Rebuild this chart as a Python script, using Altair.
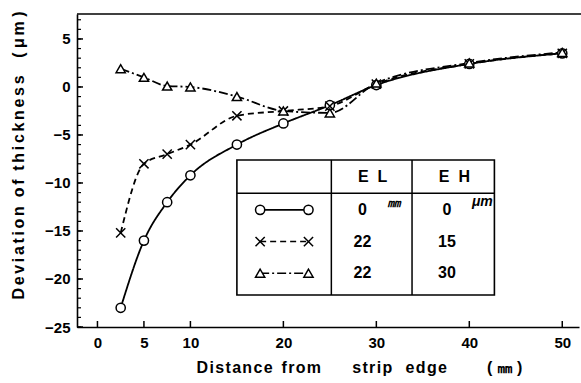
import altair as alt
import pandas as pd

# ---- data ----
dist = [2.5, 5, 7.5, 10, 15, 20, 25, 30, 40, 50]
el0_eh0 = [-23.0, -16.0, -12.0, -9.2, -6.0, -3.8, -1.9, 0.2, 2.4, 3.5]
el22_eh15 = [-15.2, -8.0, -7.0, -6.0, -3.0, -2.5, -2.0, 0.3, 2.4, 3.5]
el22_eh30 = [1.9, 1.0, 0.1, 0.0, -1.0, -2.5, -2.7, 0.4, 2.5, 3.6]

series_keys = ["c", "x", "t"]
el_values = ["0", "22", "22"]
eh_values = ["0", "15", "30"]

x_ticks = [0, 5, 10, 20, 30, 40, 50]
y_major = [-25, -20, -15, -10, -5, 0, 5]
y_minor = list(range(-25, 8))

# inset table layout (data units)
tbl_cols = [15.0, 25.16, 33.84, 42.7]
tbl_rows = [-7.6, -11.07, -21.67]
row_y = [-12.8, -16.1, -19.4]
head_y = -9.34
sample_x = [17.5, 22.7]

W, H = 502, 313
FONT = "Liberation Sans"
X_PATH = "M-1,-1L1,1M1,-1L-1,1"
NB = "\u00a0"


def spaced(words, gaps, hair):
    out = ""
    for i, w in enumerate(words):
        out += hair.join(w)
        if i < len(gaps):
            out += NB * gaps[i]
    return out


x_title = spaced(["Distance", "from", "strip", "edge", "(", "㎜", ")"], [2, 7, 3, 9, 1, 1], "\u200a")
y_title = spaced(["Deviation", "of", "thickness", "(", "μm", ")"], [2, 2, 4, 1, 1], "\u200a\u200a")

main = pd.DataFrame(
    [{"d": d, "v": v, "s": "c"} for d, v in zip(dist, el0_eh0)]
    + [{"d": d, "v": v, "s": "x"} for d, v in zip(dist, el22_eh15)]
    + [{"d": d, "v": v, "s": "t"} for d, v in zip(dist, el22_eh30)]
)

xs = alt.Scale(domain=[-2.2, 51.8], nice=False, zero=False)
ys = alt.Scale(domain=[-25, 7.6], nice=False, zero=False)
shape_scale = alt.Scale(domain=series_keys, range=["circle", X_PATH, "triangle-up"])
dash_scale = alt.Scale(domain=series_keys, range=[[1, 0], [6, 4], [9, 3, 2, 3]])

x_axis = alt.Axis(
    values=x_ticks, ticks=False, grid=False, domainColor="black", domainWidth=1.6,
    labelFont=FONT, labelFontWeight="bold", labelFontSize=15, labelColor="black",
    labelPadding=8,
    title=x_title,
    titleFont=FONT, titleFontWeight="bold", titleFontSize=16, titleColor="black",
    titleX=282, titleY=40, titleBaseline="middle", titleAlign="center",
)
y_axis = alt.Axis(
    values=y_major, ticks=False, grid=False, domainColor="black", domainWidth=1.6,
    labelFont=FONT, labelFontWeight="bold", labelFontSize=15, labelColor="black",
    labelPadding=7,
    title=y_title,
    titleFont=FONT, titleFontWeight="bold", titleFontSize=16, titleColor="black",
    titleX=-59, titleY=141, titleBaseline="middle", titleAlign="center", titleAngle=-90,
)


def X(f):
    return alt.X(f, scale=xs, axis=x_axis)


def Y(f):
    return alt.Y(f, scale=ys, axis=y_axis)


lines = alt.Chart(main).mark_line(interpolate="monotone", color="black", strokeWidth=1.8).encode(
    x=X("d:Q"), y=Y("v:Q"),
    strokeDash=alt.StrokeDash("s:N", scale=dash_scale, legend=None),
    detail="s:N",
)
points = alt.Chart(main).mark_point(filled=False, fill="white", stroke="black", strokeWidth=1.5,
                                    size=85, opacity=1, fillOpacity=1).encode(
    x=X("d:Q"), y=Y("v:Q"),
    shape=alt.Shape("s:N", scale=shape_scale, legend=None),
)

# ticks (inward)
xt = alt.Chart(pd.DataFrame({"d": x_ticks})).mark_rule(color="black", strokeWidth=1.5).encode(
    x=X("d:Q"), y=alt.value(H), y2=alt.value(H - 6))
ymaj = alt.Chart(pd.DataFrame({"v": y_major})).mark_rule(color="black", strokeWidth=1.5).encode(
    y=Y("v:Q"), x=alt.value(0), x2=alt.value(6))
ymin = alt.Chart(pd.DataFrame({"v": y_minor})).mark_rule(color="black", strokeWidth=1.2).encode(
    y=Y("v:Q"), x=alt.value(0), x2=alt.value(4))
top = alt.Chart(pd.DataFrame({"a": [0]})).mark_rule(color="black", strokeWidth=1.6).encode(
    x=alt.value(0), x2=alt.value(W + 2), y=alt.value(0))

# inset table
box = alt.Chart(pd.DataFrame({"d": [tbl_cols[0]], "d2": [tbl_cols[3]],
                              "v": [tbl_rows[0]], "v2": [tbl_rows[2]]})).mark_rect(
    fill="white", stroke="black", strokeWidth=1.6).encode(
    x=X("d:Q"), x2="d2:Q", y=Y("v:Q"), y2="v2:Q")
vdiv = alt.Chart(pd.DataFrame({"d": tbl_cols[1:3], "v": [tbl_rows[0]] * 2, "v2": [tbl_rows[2]] * 2})).mark_rule(
    color="black", strokeWidth=1.5).encode(
    x=X("d:Q"), y=Y("v:Q"), y2="v2:Q")
hdiv = alt.Chart(pd.DataFrame({"d": [tbl_cols[0]], "d2": [tbl_cols[3]], "v": [tbl_rows[1]]})).mark_rule(
    color="black", strokeWidth=1.5).encode(
    x=X("d:Q"), x2="d2:Q", y=Y("v:Q"))

cell_text = pd.DataFrame(
    [{"d": 29.6, "v": head_y, "t": "E\u00a0\u00a0L"}, {"d": 38.4, "v": head_y, "t": "E\u00a0\u00a0H"}]
    + [{"d": 28.5, "v": ry, "t": v} for ry, v in zip(row_y, el_values)]
    + [{"d": 37.6, "v": ry, "t": v} for ry, v in zip(row_y, eh_values)]
)
texts = alt.Chart(cell_text).mark_text(font=FONT, fontWeight="bold", fontSize=16, color="black",
                                       baseline="middle", align="center").encode(
    x=X("d:Q"), y=Y("v:Q"), text="t:N")
sup = alt.Chart(pd.DataFrame({"d": [31.9, 41.4], "v": [-12.1, -11.95], "t": ["㎜", "μm"]})).mark_text(
    font=FONT, fontWeight="bold", fontStyle="italic", fontSize=14, color="black",
    baseline="middle", align="center").encode(
    x=X("d:Q"), y=Y("v:Q"), text="t:N")

samples = pd.DataFrame(
    [{"d": sx, "v": ry, "s": k} for k, ry in zip(series_keys, row_y) for sx in sample_x]
)
s_lines = alt.Chart(samples).mark_line(color="black", strokeWidth=1.6).encode(
    x=X("d:Q"), y=Y("v:Q"),
    strokeDash=alt.StrokeDash("s:N", scale=dash_scale, legend=None), detail="s:N")
s_points = alt.Chart(samples).mark_point(filled=False, fill="white", stroke="black", strokeWidth=1.5,
                                         size=85, opacity=1, fillOpacity=1).encode(
    x=X("d:Q"), y=Y("v:Q"),
    shape=alt.Shape("s:N", scale=shape_scale, legend=None))

chart = alt.layer(
    lines, points, xt, ymaj, ymin, top, box, vdiv, hdiv, texts, sup, s_lines, s_points
).properties(
    width=W, height=H,
    autosize=alt.AutoSizeParams(type="none"),
    padding={"left": 77, "top": 14, "right": 2, "bottom": 56},
    background="white",
).configure_view(stroke=None)

chart.save("out.html", embed_options={"renderer": "svg", "actions": False})
